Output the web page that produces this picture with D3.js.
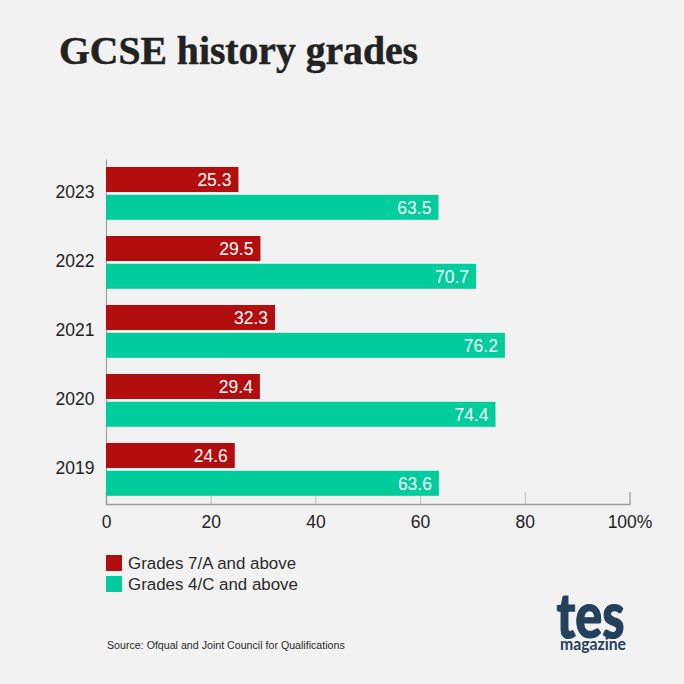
<!DOCTYPE html>
<html>
<head>
<meta charset="utf-8">
<script src="https://cdnjs.cloudflare.com/ajax/libs/d3/7.8.5/d3.min.js"></script>
<style>
html, body { margin: 0; padding: 0; background: #f2f2f2; }
svg { display: block; }
text { font-family: "Liberation Sans", Arial, sans-serif; }
</style>
</head>
<body>
<div id="chart"></div>
<script>
// chart data
var years = ["2023", "2022", "2021", "2020", "2019"];
var grades7A = [25.3, 29.5, 32.3, 29.4, 24.6];
var grades4C = [63.5, 70.7, 76.2, 74.4, 63.6];
var seriesNames = ["Grades 7/A and above", "Grades 4/C and above"];
var seriesColors = ["#b20e0e", "#00cc9c"];
var xTicks = [0, 20, 40, 60, 80, 100];

var svg = d3.select("#chart").append("svg")
    .attr("width", 684)
    .attr("height", 684);

// title
svg.append("text")
    .attr("x", 59)
    .attr("y", 63.5)
    .attr("font-size", 39.5)
    .attr("font-weight", "bold")
    .style("font-family", "'Liberation Serif', serif")
    .attr("fill", "#222222")
    .attr("stroke", "#222222")
    .attr("stroke-width", 0.5)
    .attr("textLength", 359)
    .attr("lengthAdjust", "spacingAndGlyphs")
    .text("GCSE history grades");

// scales
var margin = { top: 159, left: 106, bottom: 504, right: 629.5 };
var x = d3.scaleLinear().domain([0, 100]).range([margin.left, margin.right]);
var y = d3.scaleBand().domain(years).range([margin.top, margin.bottom]);

// axes go first, the bars cover the ticks
var xAxis = svg.append("g")
    .attr("transform", "translate(0," + margin.bottom + ")")
    .call(d3.axisBottom(x)
        .tickValues(xTicks)
        .tickSize(-12)
        .tickPadding(12)
        .tickFormat(function (d) { return d == 100 ? "100%" : d; }));
xAxis.selectAll("text").attr("font-size", 17.5).attr("fill", "#222222")
    .style("font-family", "'Liberation Sans', Arial, sans-serif");
xAxis.selectAll("line").attr("stroke", "#bcbcbc");
xAxis.select(".domain").attr("stroke", "#a0a0a0").attr("stroke-width", 1.4);

var yAxis = svg.append("g")
    .attr("transform", "translate(" + margin.left + ",-1)")
    .call(d3.axisLeft(y).tickSize(0).tickPadding(11.5));
yAxis.selectAll("text").attr("font-size", 17.5).attr("fill", "#222222")
    .style("font-family", "'Liberation Sans', Arial, sans-serif");
yAxis.select(".domain").attr("stroke", "#a0a0a0").attr("stroke-width", 1.2)
    .attr("transform", "translate(0,1)");

// bars sit in fixed slots inside each year's band
var bar_h = 25;
var slot = [8, 35.8];

var bars = svg.append("g");
[grades7A, grades4C].forEach(function (values, s) {
    bars.selectAll("rect.s" + s)
        .data(values)
        .enter()
        .append("rect")
        .attr("class", "s" + s)
        .attr("x", x(0))
        .attr("y", function (d, i) { return y(years[i]) + slot[s]; })
        .attr("width", function (d) { return x(d) - x(0); })
        .attr("height", bar_h)
        .attr("fill", seriesColors[s]);

    bars.selectAll("text.s" + s)
        .data(values)
        .enter()
        .append("text")
        .attr("class", "s" + s)
        .attr("x", function (d) { return x(d) - 7; })
        .attr("y", function (d, i) { return y(years[i]) + slot[s] + bar_h / 2 + 6.2; })
        .attr("text-anchor", "end")
        .attr("font-size", 17.5)
        .attr("fill", "#ffffff")
        .text(function (d) { return d.toFixed(1); });
});

// legend
var legend = svg.append("g");
seriesNames.forEach(function (name, i) {
    legend.append("rect")
        .attr("x", 106)
        .attr("y", 555 + i * 21)
        .attr("width", 16)
        .attr("height", 16)
        .attr("fill", seriesColors[i]);
    legend.append("text")
        .attr("x", 128)
        .attr("y", 569 + i * 21)
        .attr("font-size", 16.9)
        .attr("fill", "#2a2a2a")
        .text(name);
});

// source
svg.append("text")
    .attr("x", 107)
    .attr("y", 648.5)
    .attr("font-size", 10.65)
    .attr("fill", "#2a2a2a")
    .text("Source: Ofqual and Joint Council for Qualifications");

// logo
svg.append("text")
    .attr("x", 590.5)
    .attr("y", 637.5)
    .attr("text-anchor", "middle")
    .attr("font-size", 62)
    .attr("font-weight", 900)
    .style("font-family", "Lato, sans-serif")
    .attr("fill", "#24405c")
    .attr("stroke", "#24405c")
    .attr("stroke-width", 1.2)
    .attr("textLength", 68)
    .attr("lengthAdjust", "spacingAndGlyphs")
    .text("tes");
svg.append("text")
    .attr("x", 593)
    .attr("y", 649.5)
    .attr("text-anchor", "middle")
    .attr("font-size", 16.5)
    .attr("font-weight", 700)
    .style("font-family", "Lato, sans-serif")
    .attr("fill", "#24405c")
    .attr("textLength", 66)
    .attr("lengthAdjust", "spacingAndGlyphs")
    .text("magazine");
</script>
</body>
</html>
